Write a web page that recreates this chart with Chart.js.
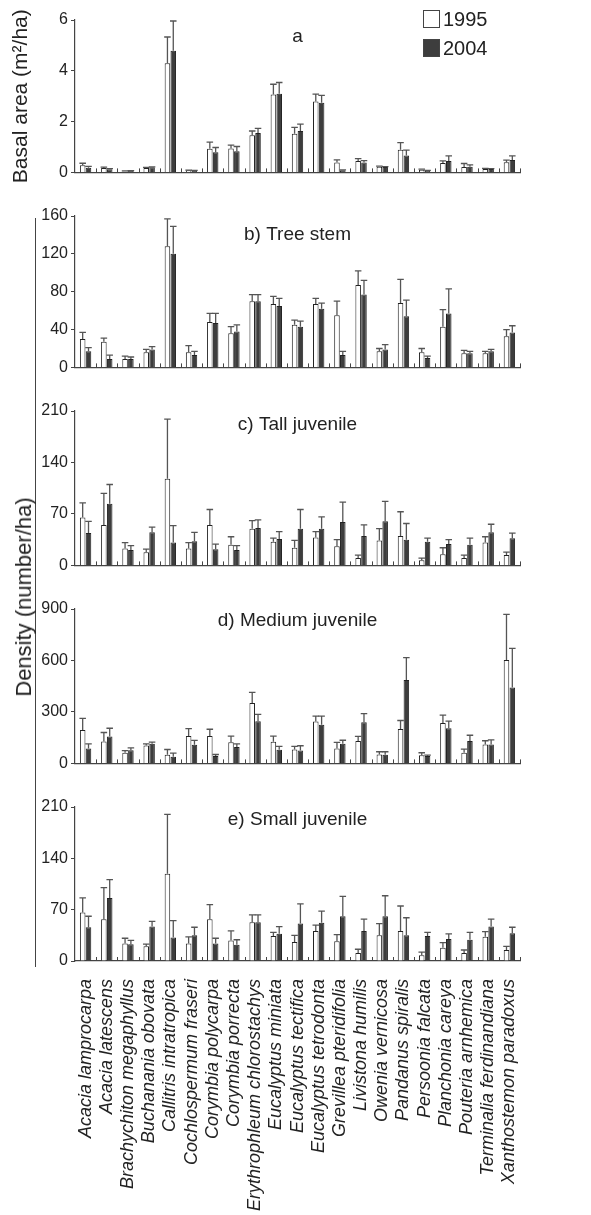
<!DOCTYPE html>
<html>
<head>
<meta charset="utf-8">
<script src="https://cdn.jsdelivr.net/npm/chart.js@4.4.1/dist/chart.umd.min.js"></script>
<style>
  body { margin: 0; background: #fff; }
  #page { position: relative; width: 591px; height: 1215px; overflow: hidden; font-family: "Liberation Sans", Arial, sans-serif; color: #222; }
  canvas { position: absolute; left: 0; }
  .legend-box { position: absolute; left: 423px; width: 15px; height: 16px; border: 1px solid #444; }
  .legend-text { position: absolute; left: 443px; font-size: 20px; line-height: 20px; }
  #density { position: absolute; left: 24px; top: 597px; transform: translate(-50%, -50%) rotate(-90deg); white-space: nowrap; font-size: 22px; }
  #bracket { position: absolute; left: 35px; top: 218px; width: 1px; height: 749px; background: #444; }
</style>
</head>
<body>
<div id="page">
  <canvas id="panelA" width="591" height="185" style="top:0px"></canvas>
  <canvas id="panelB" width="591" height="184" style="top:196px"></canvas>
  <canvas id="panelC" width="591" height="187" style="top:391px"></canvas>
  <canvas id="panelD" width="591" height="187" style="top:589px"></canvas>
  <canvas id="panelE" width="591" height="428" style="top:787px"></canvas>

  <div class="legend-box" style="top:10px;background:#fff"></div>
  <div class="legend-text" style="top:9px">1995</div>
  <div class="legend-box" style="top:39px;background:#3d3d3d"></div>
  <div class="legend-text" style="top:38px">2004</div>

  <div id="bracket"></div>
  <div id="density">Density (number/ha)</div>
</div>

<script>
// species along the x axis
const species = ['Acacia lamprocarpa', 'Acacia latescens', 'Brachychiton megaphyllus', 'Buchanania obovata',
  'Callitris intratropica', 'Cochlospermum fraseri', 'Corymbia polycarpa', 'Corymbia porrecta',
  'Erythrophleum chlorostachys', 'Eucalyptus miniata', 'Eucalyptus tectifica', 'Eucalyptus tetrodonta',
  'Grevillea pteridifolia', 'Livistona humilis', 'Owenia vernicosa', 'Pandanus spiralis',
  'Persoonia falcata', 'Planchonia careya', 'Pouteria arnhemica', 'Terminalia ferdinandiana',
  'Xanthostemon paradoxus'];

// a) basal area (m2/ha), means and upper error
const basal1995 = [0.28, 0.17, 0.04, 0.17, 4.30, 0.08, 0.93, 0.94, 1.46, 3.07, 1.52, 2.79, 0.39, 0.45, 0.22, 0.89, 0.10, 0.37, 0.21, 0.13, 0.40];
const basal2004 = [0.18, 0.12, 0.06, 0.20, 4.79, 0.07, 0.79, 0.83, 1.55, 3.10, 1.63, 2.74, 0.08, 0.39, 0.21, 0.67, 0.06, 0.45, 0.22, 0.13, 0.49];
const basalErr1995 = [0.08, 0.04, 0.02, 0.03, 1.03, 0.01, 0.26, 0.13, 0.17, 0.40, 0.25, 0.29, 0.10, 0.09, 0.03, 0.28, 0.03, 0.08, 0.14, 0.03, 0.08];
const basalErr2004 = [0.06, 0.03, 0.01, 0.02, 1.17, 0.01, 0.19, 0.19, 0.18, 0.44, 0.27, 0.29, 0.02, 0.07, 0.02, 0.21, 0.02, 0.20, 0.08, 0.02, 0.16];

// b) tree stem density
const stem1995 = [30, 27, 9, 16, 128, 16, 48, 36, 70, 67, 45, 67, 55, 87, 17, 68, 16, 43, 15, 15, 33];
const stem2004 = [17, 9, 9, 19, 120, 13, 47, 38, 70, 65, 43, 62, 13, 77, 19, 54, 10, 57, 15, 17, 37];
const stemErr1995 = [7, 4, 3, 3, 29, 7, 9, 7, 7, 8, 5, 6, 15, 15, 3, 25, 4, 18, 3, 2, 7];
const stemErr2004 = [4, 4, 2, 3, 29, 4, 10, 7, 7, 8, 6, 6, 4, 15, 5, 17, 2, 26, 2, 2, 7];

// c) tall juvenile density
const tall1995 = [65, 55, 23, 18, 118, 23, 55, 28, 50, 32, 24, 38, 26, 10, 34, 40, 7, 15, 10, 31, 14];
const tall2004 = [44, 84, 21, 45, 31, 33, 22, 21, 51, 36, 50, 50, 59, 40, 60, 35, 32, 29, 28, 45, 37];
const tallErr1995 = [20, 43, 8, 4, 81, 8, 21, 11, 11, 5, 10, 8, 9, 4, 16, 33, 3, 9, 4, 8, 4];
const tallErr2004 = [16, 26, 6, 7, 23, 12, 7, 6, 11, 10, 26, 16, 27, 15, 27, 22, 5, 6, 9, 11, 7];

// d) medium juvenile density
const medium1995 = [195, 128, 62, 104, 50, 159, 159, 124, 352, 126, 81, 244, 87, 130, 52, 201, 48, 236, 62, 110, 602];
const medium2004 = [87, 157, 77, 114, 39, 108, 43, 95, 246, 79, 75, 226, 114, 240, 50, 486, 43, 205, 130, 110, 443];
const mediumErr1995 = [68, 52, 13, 10, 31, 44, 40, 35, 62, 33, 18, 31, 35, 27, 16, 49, 14, 45, 21, 22, 267];
const mediumErr2004 = [27, 48, 14, 10, 21, 26, 9, 19, 40, 20, 28, 49, 21, 50, 18, 131, 5, 41, 34, 27, 227];

// e) small juvenile density
const small1995 = [66, 57, 24, 20, 119, 24, 57, 28, 53, 34, 26, 41, 27, 11, 35, 41, 8, 18, 11, 33, 15];
const small2004 = [46, 86, 23, 47, 32, 35, 24, 22, 53, 37, 51, 52, 61, 41, 61, 35, 34, 30, 29, 47, 38];
const smallErr1995 = [20, 43, 7, 3, 81, 9, 20, 13, 10, 5, 9, 8, 9, 5, 16, 34, 4, 7, 4, 7, 5];
const smallErr2004 = [15, 25, 5, 7, 23, 11, 7, 7, 10, 10, 27, 16, 27, 16, 28, 24, 5, 7, 10, 10, 8];

const FONT = '"Liberation Sans", Arial, sans-serif';
const INK = '#222';
const AXIS = '#444';

// upper error whiskers with caps, plus small inward ticks between species
const errorBars = {
  id: 'errorBars',
  afterDatasetsDraw(chart) {
    const ctx = chart.ctx;
    const yScale = chart.scales.y;
    const xScale = chart.scales.x;
    ctx.save();
    ctx.strokeStyle = '#555';
    ctx.lineWidth = 1.3;
    chart.data.datasets.forEach((ds, di) => {
      const meta = chart.getDatasetMeta(di);
      meta.data.forEach((bar, i) => {
        const top = yScale.getPixelForValue(ds.data[i] + ds.err[i]);
        const half = bar.width / 2 + 0.5;
        ctx.beginPath();
        ctx.moveTo(bar.x, bar.y);
        ctx.lineTo(bar.x, top);
        ctx.moveTo(bar.x - half, top);
        ctx.lineTo(bar.x + half, top);
        ctx.stroke();
      });
    });
    // tick marks at category boundaries
    ctx.strokeStyle = AXIS;
    ctx.lineWidth = 1;
    const n = chart.data.labels.length;
    const step = (xScale.right - xScale.left) / n;
    for (let i = 1; i <= n; i++) {
      const x = Math.round(xScale.left + i * step) + 0.5;
      ctx.beginPath();
      ctx.moveTo(x, yScale.bottom);
      ctx.lineTo(x, yScale.bottom - 4);
      ctx.stroke();
    }
    ctx.restore();
  }
};

// panel letter inside the plot area
const panelTitle = {
  id: 'panelTitle',
  afterDraw(chart, args, opts) {
    const ctx = chart.ctx;
    const area = chart.chartArea;
    ctx.save();
    ctx.font = '19px ' + FONT;
    ctx.fillStyle = INK;
    ctx.textAlign = 'center';
    ctx.textBaseline = 'middle';
    ctx.fillText(opts.text, (area.left + area.right) / 2, area.top + opts.dy);
    ctx.restore();
  }
};

function makePanel(id, v1995, v2004, e1995, e2004, yMax, yStep, title, titleDy, last, yTitle) {
  new Chart(document.getElementById(id), {
    type: 'bar',
    data: {
      labels: species,
      datasets: [
        { label: '1995', data: v1995, err: e1995, backgroundColor: '#ffffff', borderColor: INK, borderWidth: 1 },
        { label: '2004', data: v2004, err: e2004, backgroundColor: '#3d3d3d', borderColor: INK, borderWidth: 1 }
      ]
    },
    options: {
      responsive: false,
      animation: false,
      categoryPercentage: 0.55,
      barPercentage: 0.95,
      layout: { padding: { top: 20, right: 71, bottom: last ? 0 : 12, left: 0 } },
      plugins: {
        legend: { display: false },
        tooltip: { enabled: false },
        panelTitle: { text: title, dy: titleDy }
      },
      scales: {
        x: {
          grid: { display: false },
          border: { display: true, color: AXIS, width: 1.2 },
          ticks: {
            display: last,
            autoSkip: false,
            minRotation: 90,
            maxRotation: 90,
            padding: 10,
            color: INK,
            font: { family: FONT, size: 18, style: 'italic' }
          },
          afterFit(scale) { scale.height = last ? 254 : 0; }
        },
        y: {
          min: 0,
          max: yMax,
          ticks: { stepSize: yStep, padding: 3, color: INK, font: { family: FONT, size: 16 } },
          grid: { drawOnChartArea: false, drawTicks: true, tickLength: 4, color: AXIS },
          border: { display: true, color: AXIS, width: 1.2 },
          title: yTitle ? { display: true, text: yTitle, color: INK, font: { family: FONT, size: 21 }, padding: { top: 9, bottom: 0 } } : { display: false },
          afterFit(scale) { scale.width = 75; }
        }
      }
    },
    plugins: [errorBars, panelTitle]
  });
}

makePanel('panelA', basal1995, basal2004, basalErr1995, basalErr2004, 6, 2, 'a', 17, false, 'Basal area (m\u00b2/ha)');
makePanel('panelB', stem1995, stem2004, stemErr1995, stemErr2004, 160, 40, 'b) Tree stem', 19, false, null);
makePanel('panelC', tall1995, tall2004, tallErr1995, tallErr2004, 210, 70, 'c) Tall juvenile', 14, false, null);
makePanel('panelD', medium1995, medium2004, mediumErr1995, mediumErr2004, 900, 300, 'd) Medium juvenile', 12, false, null);
makePanel('panelE', small1995, small2004, smallErr1995, smallErr2004, 210, 70, 'e) Small juvenile', 13, true, null);
</script>
</body>
</html>
